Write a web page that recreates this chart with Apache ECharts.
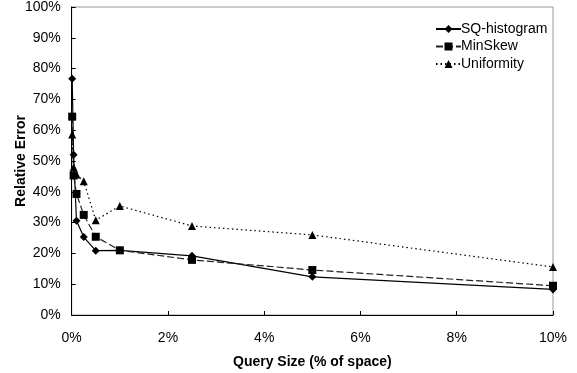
<!DOCTYPE html>
<html>
<head>
<meta charset="utf-8">
<script src="https://cdn.jsdelivr.net/npm/echarts@6/dist/echarts.min.js"></script>
<style>
  html, body { margin: 0; padding: 0; background: #fff; }
  #chart { width: 577px; height: 373px; }
</style>
</head>
<body>
<div id="chart"></div>
<script>
// Query size as a percentage of the space
const querySizes = [0.01, 0.04, 0.1, 0.25, 0.5, 1, 2.5, 5, 10];
// Relative error (%) for each estimator
const sqHistogram = [76.7, 52, 30.6, 25.3, 20.9, 21, 19.2, 12.4, 8.3];
const minSkew     = [64.4, 45.3, 39.3, 32.5, 25.4, 21, 17.9, 14.6, 9.5];
const uniformity  = [58.6, 48, 45.6, 43.4, 30.8, 35.4, 28.9, 26, 15.6];
const seriesNames = ['SQ-histogram', 'MinSkew', 'Uniformity'];

const font = 'Liberation Sans, Arial, sans-serif';

function pairs(values) {
  return querySizes.map((x, i) => [x, values[i]]);
}

const chart = echarts.init(document.getElementById('chart'), null, { renderer: 'canvas' });
chart.setOption({
  animation: false,
  backgroundColor: '#fff',
  textStyle: { fontFamily: font },
  grid: {
    left: 71.7, right: 24, top: 7, bottom: 58,
    containLabel: false, outerBoundsMode: 'none',
    show: true, borderColor: '#9a9a9a', borderWidth: 1
  },
  legend: {
    orient: 'vertical',
    left: 430, top: 17,
    itemWidth: 25, itemHeight: 10, itemGap: 3.5,
    data: seriesNames,
    textStyle: { fontFamily: font, fontSize: 14, color: '#000', padding: [0, 0, 0, -5] }
  },
  xAxis: {
    type: 'value', min: 0, max: 10, interval: 2,
    name: 'Query Size (% of space)', nameLocation: 'middle', nameGap: 40,
    nameMoveOverlap: false,
    nameTextStyle: { fontFamily: font, fontSize: 14, fontWeight: 'bold', color: '#000' },
    axisLine: { onZero: false, lineStyle: { color: '#000', width: 1 } },
    axisTick: { inside: true, length: 4, lineStyle: { color: '#000' } },
    axisLabel: { formatter: '{value}%', fontFamily: font, fontSize: 14, color: '#000', margin: 16 },
    splitLine: { show: false }
  },
  yAxis: {
    type: 'value', min: 0, max: 100, interval: 10,
    name: 'Relative Error', nameLocation: 'middle', nameGap: 44, nameRotate: 90,
    nameMoveOverlap: false,
    nameTextStyle: { fontFamily: font, fontSize: 14, fontWeight: 'bold', color: '#000' },
    axisLine: { lineStyle: { color: '#000', width: 1 } },
    axisTick: { inside: true, length: 4, lineStyle: { color: '#000' } },
    axisLabel: { formatter: '{value}%', fontFamily: font, fontSize: 14, color: '#000', margin: 11 },
    splitLine: { show: false }
  },
  series: [
    {
      name: seriesNames[0], type: 'line', data: pairs(sqHistogram),
      symbol: 'diamond', symbolSize: 8,
      itemStyle: { color: '#000' },
      lineStyle: { color: '#000', width: 1.2, type: 'solid' }
    },
    {
      name: seriesNames[1], type: 'line', data: pairs(minSkew),
      symbol: 'rect', symbolSize: 8,
      itemStyle: { color: '#000' },
      lineStyle: { color: '#222', width: 1.2, type: [7, 3] }
    },
    {
      name: seriesNames[2], type: 'line', data: pairs(uniformity),
      symbol: 'triangle', symbolSize: 8,
      itemStyle: { color: '#000' },
      lineStyle: { color: '#000', width: 1.2, type: [1.5, 3] }
    }
  ]
});
</script>
</body>
</html>
